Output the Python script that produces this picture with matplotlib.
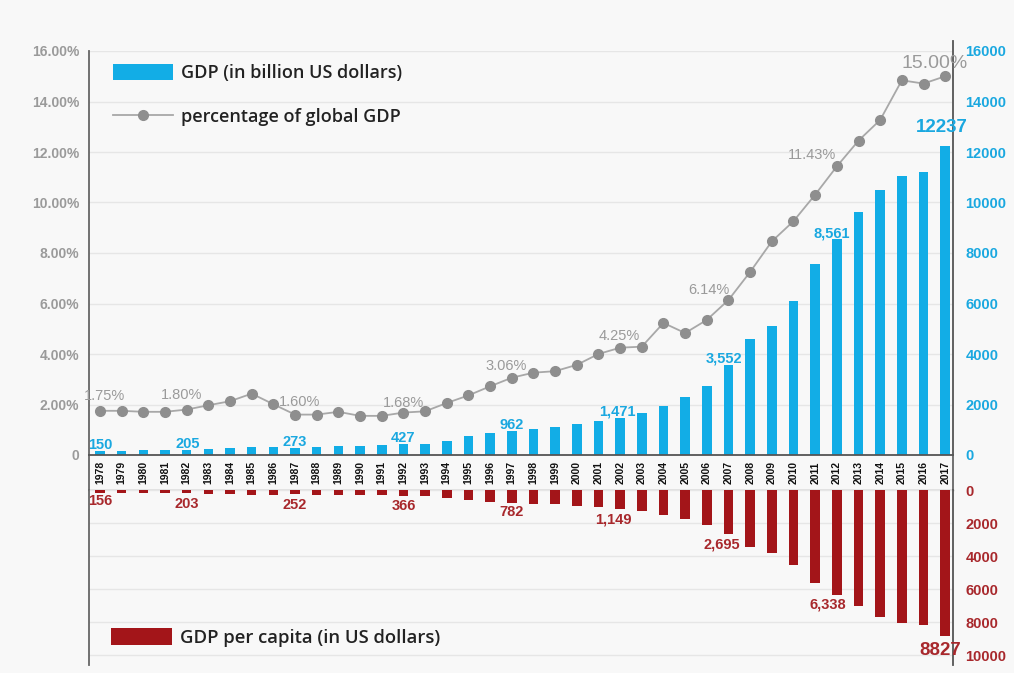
import matplotlib
matplotlib.use("Agg")
import matplotlib.pyplot as plt
from matplotlib.patches import Patch
from matplotlib.lines import Line2D
import numpy as np

years = list(range(1978, 2018))
gdp_billion = [150, 176, 191, 196, 205, 230, 260, 309, 301, 273,
               312, 348, 361, 383, 427, 445, 564, 734, 864, 962,
               1029, 1094, 1211, 1339, 1471, 1660, 1955, 2286, 2752, 3552,
               4598, 5110, 6101, 7573, 8561, 9607, 10482, 11065, 11191, 12237]
global_share = [1.75, 1.75, 1.71, 1.71, 1.80, 1.97, 2.13, 2.43, 2.01, 1.60,
                1.60, 1.71, 1.55, 1.55, 1.68, 1.73, 2.06, 2.36, 2.72, 3.06,
                3.26, 3.32, 3.57, 4.00, 4.25, 4.29, 5.23, 4.83, 5.35, 6.14,
                7.25, 8.46, 9.26, 10.31, 11.43, 12.45, 13.27, 14.84, 14.71, 15.00]
gdp_per_capita = [156, 183, 194, 197, 203, 225, 250, 294, 281, 252,
                  284, 311, 318, 333, 366, 377, 473, 610, 709, 782,
                  829, 873, 959, 1053, 1149, 1289, 1509, 1753, 2099, 2695,
                  3468, 3832, 4550, 5618, 6338, 7051, 7679, 8067, 8148, 8827]

gdp_label_years = [1978, 1982, 1987, 1992, 1997, 2002, 2007, 2012, 2017]
gdp_label_texts = ["150", "205", "273", "427", "962", "1,471", "3,552", "8,561", "12237"]
share_label_texts = ["1.75%", "1.80%", "1.60%", "1.68%", "3.06%", "4.25%", "6.14%", "11.43%", "15.00%"]
pc_label_texts = ["156", "203", "252", "366", "782", "1,149", "2,695", "6,338", "8827"]

left_ticks = [0, 2, 4, 6, 8, 10, 12, 14, 16]
left_ticklabels = ["0", "2.00%", "4.00%", "6.00%", "8.00%", "10.00%", "12.00%", "14.00%", "16.00%"]
right_ticks_top = [0, 2000, 4000, 6000, 8000, 10000, 12000, 14000, 16000]
right_ticks_bottom = [0, 2000, 4000, 6000, 8000, 10000]

# label offsets in pixels (dx, dy up) relative to the mark
pct_off_px = [(4, 15), (-5, 15), (5, 13), (0, 10), (-6, 12), (-1, 12), (-20, 10), (-25, 11), (-11, 13)]
gdp_off_px = [(0, 6), (1, 6), (0, 6), (0, 6), (0, 6), (-3, 6), (-4, 6.5), (-5, 5), (-3, 19)]
pc_off_px = [(0, -8), (0, -11), (0, -11), (0, -10), (0, -9), (-7, -11), (-7, -10.5), (-9, -9.5), (-5, -15)]

BLUE = "#12ADE6"
BLUE_TXT = "#1AA8E0"
RED = "#A31519"
RED_TXT = "#A8282C"
GRAY_LINE = "#A8A8A8"
GRAY_MK = "#8E8E8E"
GRAY_TXT = "#9A9A9A"
BG = "#F8F8F8"
GRIDC = "#E6E6E6"

plt.rcParams['font.family'] = ['Liberation Sans', 'DejaVu Sans']

W, H = 1014, 673
fig = plt.figure(figsize=(W / 100, H / 100), dpi=100, facecolor=BG)
PT = 0.72  # points per pixel at 100 dpi

def fx(px):
    return px / W

def fy(py):
    return 1 - py / H

x = np.arange(len(years))
XL = (-0.508, 39.36)

# ---- top axes (GDP bars, right scale) ----
ax_top = fig.add_axes([fx(89), fy(455), fx(953) - fx(89), fy(51) - fy(455)])
ax_top.set_facecolor(BG)
ax_top.set_xlim(*XL)
ax_top.set_ylim(0, 16000)
ax_top.bar(x, gdp_billion, width=0.44, color=BLUE, zorder=3)
ax_top.set_xticks([])
ax_top.grid(axis='y', color=GRIDC, lw=1.0, zorder=0)

ax_pct = ax_top.twinx()

ax_top.yaxis.tick_right()
ax_top.yaxis.set_label_position('right')
ax_top.set_yticks(right_ticks_top)
ax_top.set_yticklabels([str(t) for t in right_ticks_top])
ax_top.tick_params(axis='y', which='both', left=False, labelleft=False, right=False, labelright=True,
                   length=0, pad=9, labelsize=10.5, labelcolor=BLUE_TXT)
for lab in ax_top.get_yticklabels():
    lab.set_fontweight('bold')
for s in ['top', 'bottom', 'left']:
    ax_top.spines[s].set_visible(False)
ax_top.spines['right'].set_color('#555555')
ax_top.spines['right'].set_linewidth(1.3)
ax_top.spines['right'].set_bounds(0, 16400)

for (yr, txt), (dx, dy) in zip(zip(gdp_label_years, gdp_label_texts), gdp_off_px):
    i = years.index(yr)
    big = (yr == 2017)
    ax_top.annotate(txt, (x[i], gdp_billion[i]), xytext=(dx * PT, dy * PT), textcoords='offset points',
                    ha='center', va='center', color=BLUE_TXT, fontweight='bold',
                    fontsize=13.5 if big else 10.5, zorder=5)

# ---- percentage line (left scale) ----
ax_pct.set_ylim(0, 16)
ax_pct.set_xlim(*XL)
ax_pct.plot(x, global_share, color=GRAY_LINE, lw=1.3, marker='o', markersize=7,
            markerfacecolor=GRAY_MK, markeredgecolor=GRAY_MK, zorder=4)
ax_pct.yaxis.tick_left()
ax_pct.set_yticks(left_ticks)
ax_pct.set_yticklabels(left_ticklabels)
ax_pct.tick_params(axis='y', which='both', right=False, labelright=False, left=False, labelleft=True,
                   length=0, pad=7, labelsize=10, labelcolor=GRAY_TXT)
for lab in ax_pct.get_yticklabels():
    lab.set_fontweight('bold')
for s in ['top', 'bottom', 'right']:
    ax_pct.spines[s].set_visible(False)
ax_pct.spines['left'].set_color('#666666')
ax_pct.spines['left'].set_linewidth(1.3)

for (yr, txt), (dx, dy) in zip(zip(gdp_label_years, share_label_texts), pct_off_px):
    i = years.index(yr)
    big = (yr == 2017)
    ax_pct.annotate(txt, (x[i], global_share[i]), xytext=(dx * PT, dy * PT), textcoords='offset points',
                    ha='center', va='center', color=GRAY_TXT,
                    fontsize=14 if big else 10.5, zorder=5)

leg = ax_pct.legend(handles=[Patch(facecolor=BLUE, edgecolor='none'),
                             Line2D([0], [0], color=GRAY_LINE, lw=1.3, marker='o', markersize=7,
                                    markerfacecolor=GRAY_MK, markeredgecolor=GRAY_MK)],
                    labels=["GDP (in billion US dollars)", "percentage of global GDP"],
                    loc='upper left', bbox_to_anchor=(fx(113), fy(64)), bbox_transform=fig.transFigure,
                    frameon=False, borderpad=0, borderaxespad=0, handlelength=3.3, handleheight=0.95,
                    handletextpad=0.45, labelspacing=1.42,
                    prop={'family': ['Open Sans', 'DejaVu Sans'], 'weight': 'semibold', 'size': 13})
for t in leg.get_texts():
    t.set_color('#222222')

# ---- year label band ----
ax_band = fig.add_axes([fx(89), fy(490), fx(953) - fx(89), fy(455) - fy(490)])
ax_band.set_facecolor(BG)
ax_band.set_xlim(*XL)
ax_band.set_ylim(0, 1)
ax_band.set_yticks([])
ax_band.set_xticks([])
for i, yr in enumerate(years):
    ax_band.text(x[i], 0.5, str(yr), rotation=90, ha='center', va='center',
                 fontsize=7.5, fontweight='bold', color='#111111')
ax_band.spines['top'].set_color('#555555')
ax_band.spines['top'].set_linewidth(1.3)
ax_band.spines['bottom'].set_color('#888888')
ax_band.spines['bottom'].set_linewidth(1.0)
for s in ['left', 'right']:
    ax_band.spines[s].set_color('#666666')
    ax_band.spines[s].set_linewidth(1.3)

# ---- bottom axes (GDP per capita) ----
ax_bot = fig.add_axes([fx(89), fy(665), fx(953) - fx(89), fy(490) - fy(665)])
ax_bot.set_facecolor(BG)
ax_bot.set_xlim(*XL)
ax_bot.set_ylim(10600, 0)
ax_bot.bar(x, gdp_per_capita, width=0.44, color=RED, zorder=3)
ax_bot.set_xticks([])
ax_bot.yaxis.tick_right()
ax_bot.set_yticks(right_ticks_bottom)
ax_bot.set_yticklabels([str(t) for t in right_ticks_bottom])
ax_bot.tick_params(axis='y', length=0, pad=9, labelsize=10.5, labelcolor=RED_TXT)
for lab in ax_bot.get_yticklabels():
    lab.set_fontweight('bold')
ax_bot.grid(axis='y', color=GRIDC, lw=1.0, zorder=0)
for s in ['top', 'bottom']:
    ax_bot.spines[s].set_visible(False)
ax_bot.spines['left'].set_color('#666666')
ax_bot.spines['left'].set_linewidth(1.3)
ax_bot.spines['right'].set_color('#555555')
ax_bot.spines['right'].set_linewidth(1.3)

for (yr, txt), (dx, dy) in zip(zip(gdp_label_years, pc_label_texts), pc_off_px):
    i = years.index(yr)
    big = (yr == 2017)
    ax_bot.annotate(txt, (x[i], gdp_per_capita[i]), xytext=(dx * PT, dy * PT), textcoords='offset points',
                    ha='center', va='center', color=RED_TXT, fontweight='bold',
                    fontsize=13.5 if big else 10.5, zorder=5)

leg2 = ax_bot.legend(handles=[Patch(facecolor=RED, edgecolor='none')],
                     labels=["GDP per capita (in US dollars)"],
                     loc='upper left', bbox_to_anchor=(fx(111), fy(628)), bbox_transform=fig.transFigure,
                     frameon=False, borderpad=0, borderaxespad=0, handlelength=3.3, handleheight=1.05,
                     handletextpad=0.45,
                     prop={'family': ['Open Sans', 'DejaVu Sans'], 'weight': 'semibold', 'size': 13.3})
for t in leg2.get_texts():
    t.set_color('#222222')

fig.savefig("out.png", dpi=100, facecolor=BG)
